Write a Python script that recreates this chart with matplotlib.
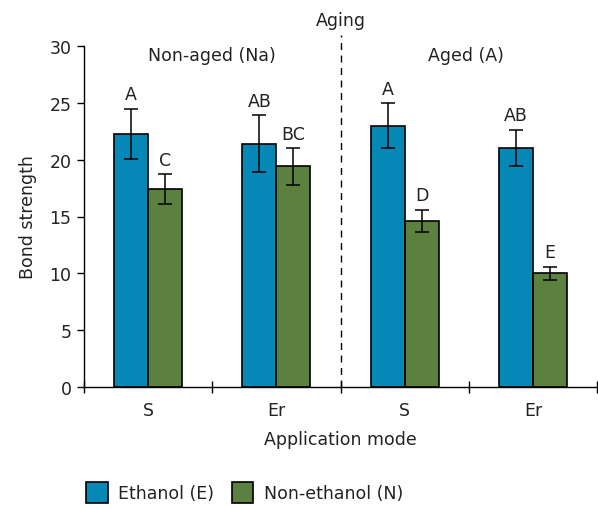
import matplotlib
matplotlib.use("Agg")
import matplotlib.pyplot as plt
import numpy as np

plt.rcParams['font.family'] = ['DejaVu Sans']

groups = ["S", "Er", "S", "Er"]
ethanol = [22.3, 21.4, 23.0, 21.0]
ethanol_err = [2.2, 2.5, 1.95, 1.6]
non_ethanol = [17.4, 19.4, 14.6, 10.0]
non_ethanol_err = [1.3, 1.6, 1.0, 0.55]
ethanol_letters = ["A", "AB", "A", "AB"]
non_ethanol_letters = ["C", "BC", "D", "E"]

blue = "#0588b5"
green = "#5b8040"
txt = "#222222"
fs = 12.5

fig = plt.figure(figsize=(5.98, 5.10), dpi=100)
ax = fig.add_axes([84/598, 1-388/510, (597-84)/598, (388-47)/510])

x = np.arange(len(groups)) + 0.5
w = 0.266
ax.bar(x - w/2, ethanol, w, color=blue, edgecolor="black", linewidth=1.2,
       yerr=ethanol_err, capsize=5, error_kw=dict(elinewidth=1.1, capthick=1.1),
       label="Ethanol (E)", zorder=2)
ax.bar(x + w/2, non_ethanol, w, color=green, edgecolor="black", linewidth=1.2,
       yerr=non_ethanol_err, capsize=5, error_kw=dict(elinewidth=1.1, capthick=1.1),
       label="Non-ethanol (N)", zorder=2)

for xi, v, e, t in zip(x - w/2, ethanol, ethanol_err, ethanol_letters):
    ax.text(xi, v + e + 0.5, t, ha="center", va="bottom", fontsize=fs, color=txt)
for xi, v, e, t in zip(x + w/2, non_ethanol, non_ethanol_err, non_ethanol_letters):
    ax.text(xi, v + e + 0.5, t, ha="center", va="bottom", fontsize=fs, color=txt)

ax.set_xlim(0, 4)
ax.set_ylim(0, 30)
ax.set_yticks(np.arange(0, 31, 5))
ax.set_xticks([0, 1, 2, 3, 4])
ax.set_xticklabels([])
ax.set_xticks(x, minor=True)
ax.set_xticklabels(groups, minor=True)
ax.tick_params(axis="x", which="major", direction="inout", length=8, width=1)
ax.tick_params(axis="x", which="minor", length=0, pad=10, labelsize=fs, labelcolor=txt)
ax.tick_params(axis="y", direction="out", length=5, width=1, labelsize=fs, pad=4, labelcolor=txt)
for s in ["top", "right"]:
    ax.spines[s].set_visible(False)
ax.spines["left"].set_linewidth(1)
ax.spines["bottom"].set_linewidth(1)

ax.set_ylabel("Bond strength", fontsize=fs, labelpad=9, color=txt)
ax.set_xlabel("Application mode", fontsize=fs, labelpad=8, color=txt)

ax.plot([2, 2], [0, 31], ls=(0, (5, 4)), color="black", lw=1, clip_on=False, zorder=1)
ax.text(2, 32.3, "Aging", ha="center", va="center", fontsize=fs, color=txt)
ax.text(1.0, 29.2, "Non-aged (Na)", ha="center", va="center", fontsize=fs, color=txt)
ax.text(2.98, 29.2, "Aged (A)", ha="center", va="center", fontsize=fs, color=txt)

leg = fig.legend(loc="lower left", bbox_to_anchor=(0.118, -0.018), ncol=2, frameon=False,
                 fontsize=fs, handlelength=1.25, handleheight=1.45, columnspacing=1.0,
                 handletextpad=0.6)
for t in leg.get_texts():
    t.set_color(txt)

fig.savefig("out.png", dpi=100)
